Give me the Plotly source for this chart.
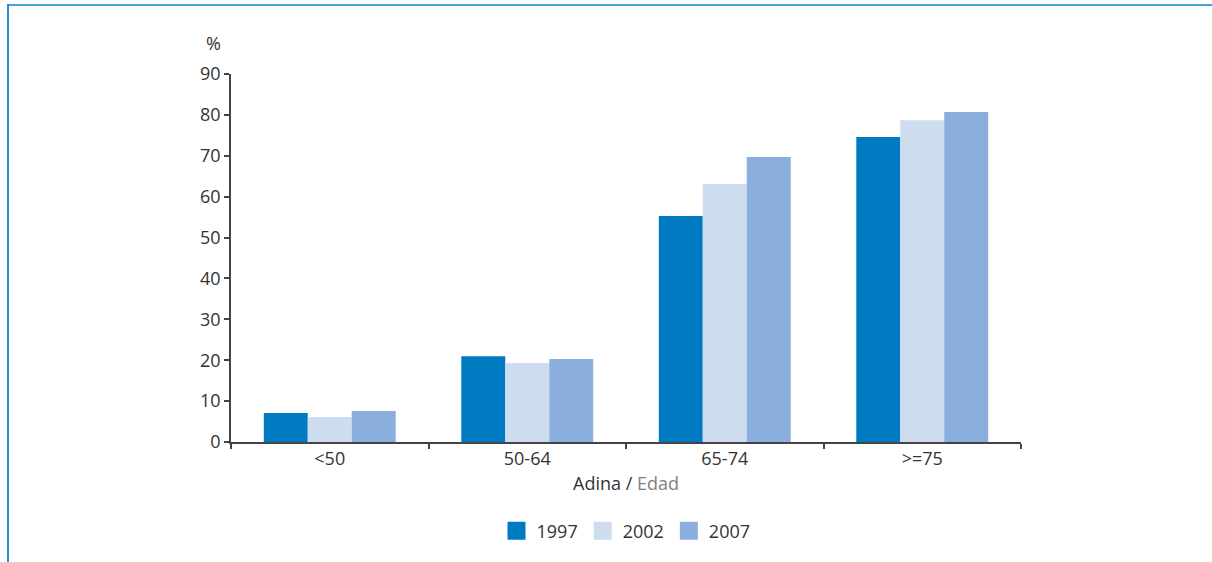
import plotly.graph_objects as go

categories = ["<50", "50-64", "65-74", ">=75"]
years = ["1997", "2002", "2007"]
v1997 = [7.1, 21.0, 55.3, 74.6]
v2002 = [6.1, 19.3, 63.1, 78.7]
v2007 = [7.6, 20.3, 69.7, 80.7]
yticks = [0, 10, 20, 30, 40, 50, 60, 70, 80, 90]
colors = ["#007bc2", "#cddcee", "#8bafdc"]

W, H = 1212, 562
L, R, T, B = 231, 191, 74, 120
pw, ph = W - L - R, H - T - B

fig = go.Figure()
for name, vals, col in zip(years, [v1997, v2002, v2007], colors):
    fig.add_trace(go.Bar(x=categories, y=vals, name=name, marker_color=col,
                         marker_line_width=0, showlegend=False))
    fig.add_trace(go.Scatter(x=[None], y=[None], mode="markers", name=name,
                             marker=dict(symbol="square", size=16, color=col,
                                         line=dict(color=col, width=2))))

axis_col = "#444444"
txt_col = "#333333"
fs = 18
fig.update_layout(
    width=W, height=H,
    margin=dict(l=L, r=R, t=T, b=B),
    paper_bgcolor="white", plot_bgcolor="white",
    font=dict(family="Open Sans", size=fs, color=txt_col),
    barmode="group", bargap=0.332, bargroupgap=0,
    xaxis=dict(showline=True, linecolor=axis_col, linewidth=1.5,
               ticks="outside", tickson="boundaries", ticklen=5,
               tickcolor=axis_col, tickwidth=1.5, showgrid=False,
               tickfont=dict(size=fs, color=txt_col),
               title=dict(text="Adina / <span style='color:#808080'>Edad</span>",
                          font=dict(size=fs, color=txt_col), standoff=8)),
    yaxis=dict(range=[0, 90], tickvals=yticks, showline=True, linecolor=axis_col,
               linewidth=1.5, ticks="outside", ticklen=5, tickcolor=axis_col,
               tickwidth=1.5, showgrid=False, zeroline=False,
               tickfont=dict(size=fs, color=txt_col)),
    legend=dict(orientation="h", x=0.5, xanchor="center", y=(T + ph - 531) / ph,
                yanchor="middle", font=dict(size=fs, color=txt_col),
                itemwidth=30, tracegroupgap=0),
)

fig.add_annotation(text="%", xref="paper", yref="paper",
                   x=(213 - L) / pw, y=(T + ph - 43) / ph, showarrow=False,
                   xanchor="center", yanchor="middle",
                   font=dict(size=fs, color=txt_col))

frame_col = "#47a2d6"
fig.add_shape(type="line", xref="paper", yref="paper",
              x0=(7 - L) / pw, x1=(W - L) / pw,
              y0=(T + ph - 5) / ph, y1=(T + ph - 5) / ph,
              line=dict(color=frame_col, width=2))
fig.add_shape(type="line", xref="paper", yref="paper",
              x0=(8 - L) / pw, x1=(8 - L) / pw,
              y0=(T + ph - 4) / ph, y1=(T + ph - H) / ph,
              line=dict(color="#2b8ccc", width=2))

fig.write_html("out.html", config={"displayModeBar": False},
               post_script="document.body.style.margin='0';document.body.style.overflow='hidden';")
